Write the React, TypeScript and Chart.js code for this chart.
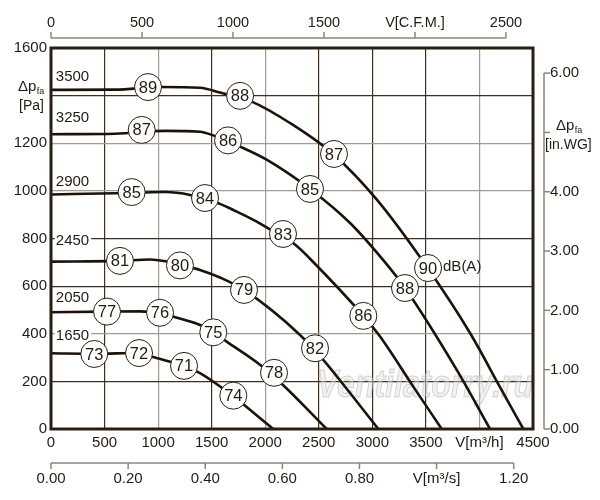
import { useEffect, useRef } from 'react';
import { Chart, registerables } from 'chart.js';

Chart.register(...registerables);

// fan speeds [rpm], one curve each
const speedLabels = ['3500', '3250', '2900', '2450', '2050', '1650'];
// pressure [Pa] at which each speed caption sits (left side of plot)
const speedLabelP = [1478, 1306, 1039, 791, 549, 391];

// curves: flow V [m3/h] and total pressure dp [Pa]
const flow3500 = [0, 600, 1024, 1391, 1578, 1874, 2231, 2633, 3044, 3510, 3912, 4192, 4410];
const pres3500 = [1424, 1425, 1436, 1433, 1413, 1375, 1285, 1155, 962, 680, 403, 176, 0];
const flow3250 = [0, 600, 1064, 1391, 1515, 1765, 2017, 2418, 2792, 3100, 3305, 3788, 4099];
const pres3250 = [1238, 1240, 1252, 1248, 1233, 1186, 1130, 1008, 865, 710, 592, 248, 0];
const flow2900 = [0, 600, 1064, 1298, 1562, 1734, 1920, 2051, 2278, 2418, 2916, 3072, 3382, 3648];
const pres2900 = [985, 990, 995, 983, 948, 913, 871, 836, 775, 715, 475, 388, 178, 0];
const flow2450 = [0, 644, 924, 1111, 1204, 1391, 1578, 1802, 2325, 2542, 2792, 3056];
const pres2450 = [703, 706, 712, 701, 690, 668, 636, 584, 395, 290, 151, 0];
const flow2050 = [0, 523, 831, 1018, 1139, 1391, 1515, 1640, 1951, 2166, 2574];
const pres2050 = [490, 493, 494, 487, 472, 437, 406, 367, 270, 185, 0];
const flow1650 = [0, 401, 822, 952, 1242, 1391, 1699, 1793, 2075];
const pres1650 = [318, 316, 319, 302, 265, 235, 139, 105, 0];

// noise level marks dB(A)
const dbText = ['89', '88', '87', '90', '87', '86', '85', '88', '85', '84', '83', '86',
  '81', '80', '79', '82', '77', '76', '75', '78', '73', '72', '71', '74'];
const dbFlow = [906, 1765, 2642, 3520, 847, 1653, 2418, 3305, 753, 1438, 2166, 2916,
  644, 1204, 1802, 2465, 523, 1018, 1515, 2082, 404, 822, 1242, 1702];
const dbPres = [1436, 1399, 1155, 676, 1256, 1212, 1008, 592, 995, 970, 819, 475,
  706, 687, 584, 339, 493, 488, 406, 236, 315, 319, 265, 140];

// secondary axes
const cfmTicks = [0, 500, 1000, 1500, 2000, 2500];
const inwgTicks = [0, 1, 2, 3, 4, 5, 6];
const m3sTicks = [0, 0.2, 0.4, 0.6, 0.8, 1.0, 1.2];

const M3H_PER_CFM = 1.69901;
const PA_PER_INWG = 249.089;

const FONT = '"Liberation Sans", Arial, sans-serif';
const TEXT = '#231a12';
const CURVE = '#1c1209';
const GRID_DARK = '#3d2e20';
const GRID_GRAY = '#a39b93';
const AXIS_GRAY = '#8c857e';
const darkX = [500, 1500, 2500, 3000, 3500];
const darkY = [200, 600, 800, 1400];

const curves = [
  [flow3500, pres3500],
  [flow3250, pres3250],
  [flow2900, pres2900],
  [flow2450, pres2450],
  [flow2050, pres2050],
  [flow1650, pres1650],
];

// Δp with subscript "fa"
function drawDeltaP(ctx: CanvasRenderingContext2D, x: number, y: number) {
  ctx.textAlign = 'left';
  ctx.textBaseline = 'middle';
  ctx.font = `15px ${FONT}`;
  ctx.fillText('Δp', x, y);
  const w = ctx.measureText('Δp').width;
  ctx.font = `9px ${FONT}`;
  ctx.fillText('fa', x + w + 0.5, y + 5);
}

const overlayPlugin = {
  id: 'overlay',
  beforeDatasetsDraw(chart: any) {
    const { ctx, chartArea: a, scales } = chart;
    const x = scales.x;
    const y = scales.y;
    ctx.save();
    // watermark
    ctx.font = `italic bold 38px ${FONT}`;
    ctx.textAlign = 'left';
    ctx.textBaseline = 'alphabetic';
    ctx.fillStyle = 'rgba(225,225,225,0.45)';
    ctx.strokeStyle = 'rgba(170,170,170,0.5)';
    ctx.lineWidth = 1;
    ctx.fillText('Ventilatorry.ru', a.left + 266, a.bottom - 32, 216);
    ctx.strokeText('Ventilatorry.ru', a.left + 266, a.bottom - 32, 216);

    // speed captions with white background
    ctx.font = `15px ${FONT}`;
    ctx.textBaseline = 'middle';
    speedLabels.forEach((t, i) => {
      const px = x.getPixelForValue(45);
      const py = y.getPixelForValue(speedLabelP[i]);
      const w = ctx.measureText(t).width;
      ctx.fillStyle = '#ffffff';
      ctx.fillRect(px - 1, py - 8, w + 3, 16);
      ctx.fillStyle = TEXT;
      ctx.fillText(t, px, py);
    });
    ctx.restore();
  },
  afterDatasetsDraw(chart: any) {
    const { ctx, chartArea: a, scales } = chart;
    ctx.save();

    // numbers in the dB circles
    const meta = chart.getDatasetMeta(0);
    ctx.fillStyle = TEXT;
    ctx.font = `16.5px ${FONT}`;
    ctx.textAlign = 'center';
    ctx.textBaseline = 'middle';
    meta.data.forEach((pt: any, i: number) => {
      ctx.fillText(dbText[i], pt.x, pt.y + 1);
    });
    // dB(A) caption next to the last circle of the top curve
    ctx.font = `15px ${FONT}`;
    ctx.textAlign = 'left';
    ctx.fillText('dB(A)', meta.data[3].x + 15, meta.data[3].y - 1);

    // heavy frame
    ctx.strokeStyle = '#2a1e12';
    ctx.lineWidth = 3;
    ctx.strokeRect(a.left, a.top, a.right - a.left, a.bottom - a.top);

    // left axis title instead of 1400
    const yTitle = scales.y.getPixelForValue(1400);
    ctx.fillStyle = TEXT;
    drawDeltaP(ctx, 18, yTitle - 9);
    ctx.font = `14px ${FONT}`;
    ctx.textAlign = 'left';
    ctx.fillText('[Pa]', 19, yTitle + 11);

    ctx.strokeStyle = AXIS_GRAY;
    ctx.lineWidth = 1.5;

    // top axis: C.F.M.
    const x2 = scales.x2;
    const topY = 38;
    ctx.beginPath();
    ctx.moveTo(x2.getPixelForValue(0), topY);
    ctx.lineTo(x2.getPixelForValue(cfmTicks[cfmTicks.length - 1]), topY);
    ctx.stroke();
    ctx.font = `14.5px ${FONT}`;
    ctx.textAlign = 'center';
    cfmTicks.forEach((v) => {
      const px = x2.getPixelForValue(v);
      ctx.beginPath();
      ctx.moveTo(px, topY);
      ctx.lineTo(px, topY - 6);
      ctx.stroke();
      ctx.fillText(v === 2000 ? 'V[C.F.M.]' : String(v), px, 23);
    });

    // right axis: in.WG
    const y2 = scales.y2;
    const rightX = 544;
    ctx.beginPath();
    ctx.moveTo(rightX, y2.getPixelForValue(0));
    ctx.lineTo(rightX, y2.getPixelForValue(inwgTicks[inwgTicks.length - 1]));
    ctx.stroke();
    inwgTicks.forEach((v) => {
      const py = y2.getPixelForValue(v);
      ctx.beginPath();
      ctx.moveTo(rightX, py);
      ctx.lineTo(rightX + 6, py);
      ctx.stroke();
      if (v === 5) {
        drawDeltaP(ctx, 556, py - 7);
        ctx.font = `14px ${FONT}`;
        ctx.fillText('[in.WG]', 545, py + 13);
      } else {
        ctx.font = `15px ${FONT}`;
        ctx.textAlign = 'left';
        ctx.textBaseline = 'middle';
        ctx.fillText(v.toFixed(2), 550, py);
      }
    });

    // second bottom axis: m3/s
    const x3 = scales.x3;
    const botY = 463;
    ctx.beginPath();
    ctx.moveTo(x3.getPixelForValue(0), botY);
    ctx.lineTo(x3.getPixelForValue(m3sTicks[m3sTicks.length - 1]), botY);
    ctx.stroke();
    ctx.font = `15px ${FONT}`;
    ctx.textAlign = 'center';
    ctx.textBaseline = 'middle';
    m3sTicks.forEach((v) => {
      const px = x3.getPixelForValue(v);
      ctx.beginPath();
      ctx.moveTo(px, botY);
      ctx.lineTo(px, botY + 6);
      ctx.stroke();
      ctx.fillText(Math.abs(v - 1) < 1e-9 ? 'V[m³/s]' : v.toFixed(2), px, 479);
    });

    ctx.restore();
  },
};

export default function App() {
  const canvasRef = useRef<HTMLCanvasElement>(null);
  const chartRef = useRef<Chart | null>(null);

  useEffect(() => {
    if (!canvasRef.current) return;
    if (chartRef.current) chartRef.current.destroy();

    const lineSets = curves.map(([fx, py], i) => ({
      label: speedLabels[i],
      data: fx.map((v, j) => ({ x: v, y: py[j] })),
      borderColor: CURVE,
      borderWidth: 2.6,
      pointRadius: 0,
      fill: false,
      cubicInterpolationMode: 'monotone' as const,
      order: 1,
    }));

    const circleSet = {
      label: 'dB(A)',
      data: dbFlow.map((v, i) => ({ x: v, y: dbPres[i] })),
      showLine: false,
      pointRadius: 13.5,
      pointStyle: 'circle' as const,
      pointBackgroundColor: '#ffffff',
      pointBorderColor: '#2a1e12',
      pointBorderWidth: 1,
      order: 0,
    };

    chartRef.current = new Chart(canvasRef.current, {
      type: 'line',
      data: { datasets: [circleSet as any, ...lineSets] },
      options: {
        animation: false,
        responsive: true,
        maintainAspectRatio: false,
        layout: { padding: { left: 0, top: 48, right: 67, bottom: 48 } },
        plugins: { legend: { display: false }, tooltip: { enabled: false } },
        scales: {
          x: {
            type: 'linear',
            position: 'bottom',
            min: 0,
            max: 4500,
            afterFit: (s: any) => { s.height = 23; },
            border: { display: false },
            grid: {
              drawTicks: false,
              lineWidth: 1.2,
              color: (c: any) => (darkX.includes(c.tick?.value) ? GRID_DARK : GRID_GRAY),
            },
            ticks: {
              stepSize: 500,
              autoSkip: false,
              maxRotation: 0,
              padding: 5,
              color: TEXT,
              font: { family: FONT, size: 15 },
              callback: (v: any) => (v === 4000 ? 'V[m³/h]' : String(v)),
            },
          },
          y: {
            type: 'linear',
            position: 'left',
            min: 0,
            max: 1600,
            afterFit: (s: any) => { s.width = 51; },
            border: { display: false },
            grid: {
              drawTicks: false,
              lineWidth: 1.2,
              color: (c: any) => (darkY.includes(c.tick?.value) ? GRID_DARK : GRID_GRAY),
            },
            ticks: {
              stepSize: 200,
              padding: 4,
              color: TEXT,
              font: { family: FONT, size: 15 },
              callback: (v: any) => (v === 1400 ? '' : String(v)),
            },
          },
          x2: { type: 'linear', position: 'top', display: false, min: 0, max: 4500 / M3H_PER_CFM },
          x3: { type: 'linear', position: 'bottom', display: false, min: 0, max: 4500 / 3600 },
          y2: { type: 'linear', position: 'right', display: false, min: 0, max: 1600 / PA_PER_INWG },
        },
      },
      plugins: [overlayPlugin],
    });

    return () => {
      if (chartRef.current) {
        chartRef.current.destroy();
        chartRef.current = null;
      }
    };
  }, []);

  return (
    <div style={{ position: 'fixed', left: 0, top: 0, width: 600, height: 500, background: '#ffffff' }}>
      <canvas ref={canvasRef}></canvas>
    </div>
  );
}
